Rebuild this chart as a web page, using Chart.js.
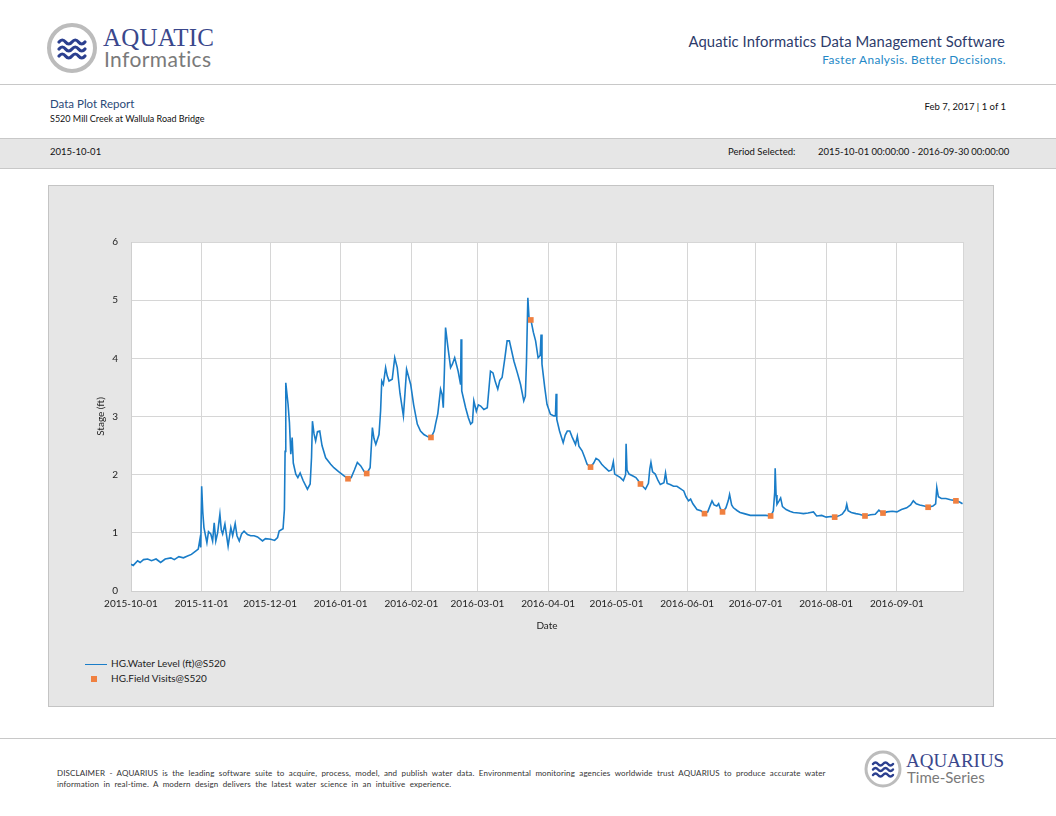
<!DOCTYPE html>
<html>
<head>
<meta charset="utf-8">
<script src="https://cdn.jsdelivr.net/npm/chart.js@4/dist/chart.umd.min.js"></script>
<style>
  html, body { margin: 0; padding: 0; background: #fff; }
  body { width: 1056px; height: 816px; position: relative; overflow: hidden; font-family: Lato, 'Open Sans', sans-serif; color: #222; }
  .abs { position: absolute; white-space: nowrap; }
  .rule { position: absolute; left: 0; width: 1056px; height: 1px; background: #c8c8c8; }
  #band { position: absolute; left: 0; top: 138px; width: 1056px; height: 29px; background: #e6e6e6; border-top: 1px solid #c8c8c8; border-bottom: 1px solid #c8c8c8; }
  #panel { position: absolute; left: 48px; top: 185px; width: 944px; height: 520px; background: #e6e6e6; border: 1px solid #c4c4c4; }
  #chart { position: absolute; left: 0; top: 0; }
  .legend { position: absolute; font-size: 10px; color: #222; }
  .disc { position: absolute; left: 57px; font-size: 8px; color: #333; white-space: nowrap; }
</style>
</head>
<body>

<!-- header -->
<svg class="abs" style="left:46px;top:22px" width="54" height="54" viewBox="0 0 54 54">
  <circle cx="26" cy="26" r="23" fill="#fff" stroke="#bcbcbc" stroke-width="4"/>
  <g fill="none" stroke="#2b3f8f" stroke-width="3.2" stroke-linecap="round">
    <path d="M13 20 q3.3 -4 6.5 0 t6.5 0 t6.5 0 t6.5 0"/>
    <path d="M13 27 q3.3 -4 6.5 0 t6.5 0 t6.5 0 t6.5 0"/>
    <path d="M13 34 q3.3 -4 6.5 0 t6.5 0 t6.5 0 t6.5 0"/>
  </g>
</svg>
<div class="abs" style="left:103px;top:24px;font-family:'Liberation Serif','DejaVu Serif',serif;font-size:25px;color:#3a478c;letter-spacing:0.2px">AQUATIC</div>
<div class="abs" style="left:104px;top:46px;font-size:21px;color:#7a7a7a;letter-spacing:0.4px">Informatics</div>
<div class="abs" style="right:51px;top:32px;font-size:14.8px;color:#2d3b6b;letter-spacing:0.1px">Aquatic Informatics Data Management Software</div>
<div class="abs" style="right:50px;top:52px;font-size:11.8px;color:#2388c6;letter-spacing:0.4px">Faster Analysis. Better Decisions.</div>
<div class="rule" style="top:84px"></div>

<div class="abs" style="left:50px;top:97px;font-size:11.5px;color:#2b4a78">Data Plot Report</div>
<div class="abs" style="left:50px;top:113px;font-size:9px;color:#111">S520 Mill Creek at Wallula Road Bridge</div>
<div class="abs" style="right:50px;top:101px;font-size:9.5px;color:#111">Feb 7, 2017 | 1 of 1</div>

<div id="band"></div>
<div class="abs" style="left:50px;top:146px;font-size:9.5px;color:#111">2015-10-01</div>
<div class="abs" style="left:728px;top:146px;font-size:9.5px;color:#111">Period Selected:</div>
<div class="abs" style="left:818px;top:146px;font-size:9.5px;color:#111">2015-10-01 00:00:00 - 2016-09-30 00:00:00</div>

<!-- chart panel -->
<div id="panel">
  <canvas id="chart" width="944" height="460"></canvas>
  <div class="legend" style="left:36px;top:471px"><span style="display:inline-block;width:22px;height:1.5px;background:#1a7dc8;vertical-align:middle;margin-right:4px"></span>HG.Water Level (ft)@S520</div>
  <div class="legend" style="left:42px;top:486px"><span style="display:inline-block;width:6px;height:6px;background:#f08040;vertical-align:middle;margin-right:14px"></span>HG.Field Visits@S520</div>
</div>

<!-- footer -->
<div class="rule" style="top:738px"></div>
<div class="disc" style="top:768px;letter-spacing:0.12px;word-spacing:2.2px">DISCLAIMER - AQUARIUS is the leading software suite to acquire, process, model, and publish water data. Environmental monitoring agencies worldwide trust AQUARIUS to produce accurate water</div>
<div class="disc" style="top:779px;letter-spacing:0.12px;word-spacing:2.2px">information in real-time. A modern design delivers the latest water science in an intuitive experience.</div>
<svg class="abs" style="left:863px;top:749px" width="40" height="40" viewBox="0 0 40 40">
  <circle cx="20" cy="20" r="17" fill="#fff" stroke="#bcbcbc" stroke-width="3"/>
  <g fill="none" stroke="#2b3f8f" stroke-width="2.4" stroke-linecap="round">
    <path d="M10 15 q2.5 -3 5 0 t5 0 t5 0 t5 0"/>
    <path d="M10 20.5 q2.5 -3 5 0 t5 0 t5 0 t5 0"/>
    <path d="M10 26 q2.5 -3 5 0 t5 0 t5 0 t5 0"/>
  </g>
</svg>
<div class="abs" style="left:906px;top:750px;font-family:'Liberation Serif','DejaVu Serif',serif;font-size:19px;color:#3a478c">AQUARIUS</div>
<div class="abs" style="left:907px;top:768px;font-size:15px;color:#7a7a7a">Time-Series</div>

<script>
// days since 2015-10-01 00:00
const tickDays = [0, 31, 61, 92, 123, 152, 183, 213, 244, 274, 305, 336, 365];
const tickLabels = ['2015-10-01', '2015-11-01', '2015-12-01', '2016-01-01', '2016-02-01', '2016-03-01',
  '2016-04-01', '2016-05-01', '2016-06-01', '2016-07-01', '2016-08-01', '2016-09-01', ''];
const yTicks = [0, 1, 2, 3, 4, 5, 6];

// HG.Water Level (ft)@S520
const levelDays = [
  0, 1, 2.9, 4, 5.5, 7.3, 9, 11, 13, 15, 17.5, 19, 21, 23, 24.8, 26.5, 28.5, 29.5, 30.2, 30.6,
  31, 31.5, 32, 33.3, 34, 35, 35.8, 36.5, 37.2, 38, 39, 39.6, 40.2, 41.2, 42.6, 43.8, 44.6, 45.7, 46.5, 47.5,
  48.5, 49.6, 51.1, 52.5, 54, 55.5, 57.7, 59, 61.3, 63, 64.3, 65, 66.7, 67.3, 67.6, 67.9, 68.9, 69.5, 70.1, 70.7,
  71.2, 72.3, 73.2, 74.2, 75.5, 77.4, 78.6, 79.2, 79.6, 80.3, 81, 81.8, 82.8, 83.8, 85.4, 87.6, 89, 91.2, 93.5, 95.3,
  96.6, 98, 99.3, 100.8, 102.2, 103.4, 104.9, 105.9, 106.6, 107.4, 108.8, 109.5, 110, 110.7, 111.7, 112.4, 113.2, 114.6, 115.7, 116.8,
  118, 119.5, 120.2, 120.9, 122.7, 124, 125.6, 127, 128.5, 130.3, 131.7, 133, 133.6, 134.6, 135.8, 136.5, 137, 137.5, 138, 139,
  140.2, 141, 142, 143.5, 144.6, 144.8, 145.1, 146.8, 148, 149, 149.8, 150.4, 151.5, 152.4, 153.4, 154.8, 156.3, 157.7, 158.8, 159.8,
  160.9, 161.8, 162.8, 164, 165, 166, 168, 169.5, 170.9, 172.3, 173, 173.5, 174.1, 174.6, 175.5, 176.5, 177.5, 178.6, 179.5, 179.9,
  180.3, 181.5, 182.5, 184, 185.5, 186.2, 186.5, 186.8, 188, 189.6, 190.5, 191.4, 192.5, 193.5, 195, 195.8, 196.5, 197.9, 199, 200.1,
  201.6, 203, 204, 205.2, 206.5, 208, 209.6, 210.8, 211.6, 212.2, 213.5, 214.7, 216, 217, 217.2, 217.6, 218.5, 220, 221.5, 222.5,
  223.5, 224.5, 225.7, 227, 227.6, 228.1, 228.8, 230, 231.2, 232.2, 233.8, 234.5, 235.2, 236.5, 238, 239.5, 241, 242.5, 243.5, 244.6,
  245.5, 246.5, 248.3, 250, 251.6, 253, 254.2, 254.9, 255.8, 257, 257.8, 258.5, 259.6, 261, 262, 262.6, 263.5, 264.3, 266, 267.2,
  269, 271.7, 274, 276, 278.5, 280.7, 281.8, 282.4, 282.6, 283, 283.4, 284.3, 285, 285.8, 287.4, 289, 290.6, 293, 295, 297,
  299.4, 300.8, 303, 305, 307, 308.9, 311, 312, 313.5, 314, 314.6, 316, 318, 319.5, 322, 324.5, 326.5, 328.1, 329.8, 331.6,
  334, 336, 338, 340.3, 342, 343.2, 344.5, 346, 348, 349.8, 351.8, 353, 353.5, 354.2, 355.5, 357.5, 359.5, 361.9, 363.5, 364.8
];
const levelValues = [
  0.46, 0.44, 0.52, 0.49, 0.54, 0.55, 0.52, 0.55, 0.49, 0.55, 0.57, 0.54, 0.59, 0.57, 0.60, 0.63, 0.69, 0.72, 0.88, 0.75,
  1.80, 1.35, 1.09, 0.83, 1.02, 0.98, 0.86, 1.17, 0.86, 1.00, 1.32, 1.05, 0.98, 1.15, 0.77, 1.09, 0.95, 1.16, 0.95, 0.86,
  0.98, 1.03, 0.97, 0.95, 0.95, 0.93, 0.86, 0.90, 0.89, 0.87, 0.92, 1.03, 1.07, 1.40, 2.40, 3.58, 3.21, 2.90, 2.35, 2.64,
  2.20, 2.01, 1.95, 2.03, 1.90, 1.75, 1.84, 2.30, 2.92, 2.70, 2.58, 2.74, 2.75, 2.50, 2.29, 2.18, 2.12, 2.05, 1.98, 1.93,
  1.95, 2.08, 2.21, 2.15, 2.06, 2.02, 2.12, 2.81, 2.62, 2.52, 2.69, 3.10, 3.61, 3.55, 3.84, 3.70, 3.61, 3.64, 4.01, 3.84,
  3.40, 3.01, 3.40, 3.81, 3.55, 3.20, 2.87, 2.75, 2.69, 2.65, 2.64, 2.75, 2.87, 3.05, 3.47, 3.38, 3.15, 3.80, 4.53, 4.20,
  3.84, 3.90, 4.01, 3.78, 3.55, 4.33, 3.44, 3.15, 2.98, 2.87, 2.90, 3.27, 3.09, 3.20, 3.18, 3.12, 3.15, 3.78, 3.75, 3.60,
  3.47, 3.62, 3.67, 4.00, 4.30, 4.30, 3.95, 3.75, 3.55, 3.27, 3.35, 3.95, 5.04, 4.70, 4.65, 4.45, 4.30, 4.01, 4.05, 4.41,
  3.90, 3.50, 3.21, 3.04, 3.01, 3.01, 3.39, 2.95, 2.75, 2.55, 2.68, 2.75, 2.75, 2.65, 2.52, 2.66, 2.49, 2.41, 2.30, 2.18,
  2.13, 2.20, 2.28, 2.25, 2.18, 2.12, 2.06, 2.08, 2.22, 2.01, 1.98, 1.95, 1.90, 2.00, 2.53, 2.08, 2.01, 1.98, 1.95, 1.90,
  1.83, 1.80, 1.75, 1.85, 2.10, 2.21, 2.05, 2.01, 1.90, 1.83, 1.86, 2.03, 1.85, 1.83, 1.80, 1.80, 1.76, 1.72, 1.62, 1.55,
  1.58, 1.50, 1.40, 1.38, 1.33, 1.36, 1.48, 1.55, 1.48, 1.46, 1.50, 1.42, 1.36, 1.43, 1.55, 1.66, 1.48, 1.43, 1.38, 1.35,
  1.33, 1.30, 1.30, 1.30, 1.30, 1.29, 1.38, 1.70, 2.11, 1.65, 1.49, 1.55, 1.60, 1.45, 1.40, 1.37, 1.35, 1.34, 1.33, 1.34,
  1.36, 1.29, 1.30, 1.27, 1.28, 1.27, 1.30, 1.32, 1.40, 1.49, 1.38, 1.35, 1.33, 1.32, 1.29, 1.31, 1.32, 1.39, 1.33, 1.36,
  1.37, 1.36, 1.40, 1.43, 1.48, 1.55, 1.50, 1.48, 1.46, 1.44, 1.46, 1.50, 1.78, 1.62, 1.59, 1.59, 1.57, 1.55, 1.53, 1.50
];

// HG.Field Visits@S520
const visitDays = [95.2, 103.4, 131.6, 175.4, 201.6, 223.5, 251.6, 259.5, 280.6, 308.7, 322, 329.9, 349.7, 361.9];
const visitValues = [1.93, 2.02, 2.64, 4.66, 2.13, 1.84, 1.33, 1.36, 1.29, 1.27, 1.29, 1.34, 1.44, 1.55];

const FONT = 'Lato, "Open Sans", sans-serif';
Chart.defaults.font.family = FONT;
Chart.defaults.font.size = 10;
Chart.defaults.color = '#222';

const plotBg = {
  id: 'plotBg',
  beforeDraw(chart) {
    const { ctx, chartArea: a } = chart;
    ctx.save();
    ctx.fillStyle = '#fff';
    ctx.fillRect(a.left, a.top, a.right - a.left, a.bottom - a.top);
    ctx.restore();
  },
};

new Chart(document.getElementById('chart'), {
  type: 'line',
  data: {
    datasets: [
      {
        label: 'HG.Field Visits@S520',
        data: visitDays.map((d, i) => ({ x: d, y: visitValues[i] })),
        showLine: false,
        pointStyle: 'rect',
        pointRadius: 4,
        pointBackgroundColor: '#f08040',
        pointBorderWidth: 0,
        backgroundColor: '#f08040',
      },
      {
        label: 'HG.Water Level (ft)@S520',
        data: levelDays.map((d, i) => ({ x: d, y: levelValues[i] })),
        borderColor: '#1a7dc8',
        borderWidth: 1.6,
        pointRadius: 0,
        tension: 0,
      },
    ],
  },
  options: {
    responsive: false,
    animation: false,
    layout: { padding: { top: 56, right: 30, left: 0, bottom: 0 } },
    plugins: { legend: { display: false }, tooltip: { enabled: false } },
    scales: {
      x: {
        type: 'linear',
        min: 0,
        max: 365,
        afterBuildTicks: s => { s.ticks = tickDays.map(v => ({ value: v })); },
        afterFit: s => { s.height = 55; },
        ticks: {
          autoSkip: false,
          maxRotation: 0,
          padding: 7,
          callback: v => tickLabels[tickDays.indexOf(v)] ?? '',
        },
        grid: { color: '#d6d6d6', drawTicks: false },
        border: { color: '#cfcfcf', width: 1 },
        title: { display: true, text: 'Date', padding: { top: 0, bottom: 14 }, font: { size: 10 } },
      },
      y: {
        min: 0,
        max: 6,
        afterBuildTicks: s => { s.ticks = yTicks.map(v => ({ value: v })); },
        afterFit: s => { s.width = 82; },
        ticks: { padding: 13 },
        grid: { color: '#d6d6d6', drawTicks: false },
        border: { color: '#cfcfcf', width: 1 },
        title: { display: true, text: 'Stage (ft)', padding: { top: 46, bottom: 0 }, font: { size: 10 } },
      },
    },
  },
  plugins: [plotBg],
});
</script>
</body>
</html>
